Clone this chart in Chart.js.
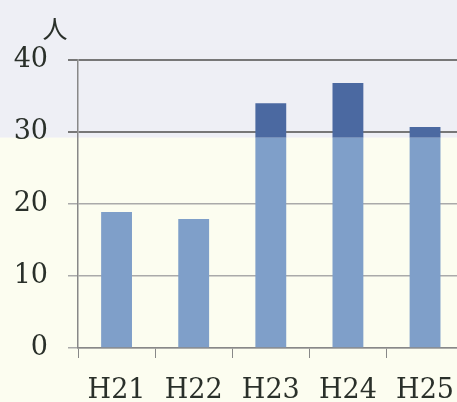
<!DOCTYPE html>
<html>
<head>
<meta charset="utf-8">
<script src="https://cdn.jsdelivr.net/npm/chart.js@4"></script>
<style>
  html, body { margin: 0; padding: 0; overflow: hidden; background: #fcfdf0; }
  canvas { display: block; }
</style>
</head>
<body>
<canvas id="chart" width="471" height="402"></canvas>
<script>
const categories = ['H21', 'H22', 'H23', 'H24', 'H25'];
const baseValues = [18.9, 17.9, 29.2, 29.2, 29.2];
const overValues = [0, 0, 4.8, 7.6, 1.5];
const yTicks = [0, 10, 20, 30, 40];
const bandValue = 29.2;
const unitLabel = '人';

const bandPlugin = {
    id: 'band',
    beforeDraw(chart) {
        const c = chart.ctx;
        const y = chart.scales.y.getPixelForValue(bandValue);
        c.save();
        c.fillStyle = '#eeeff5';
        c.fillRect(0, 0, chart.width, y);
        c.fillStyle = '#fcfdf0';
        c.fillRect(0, y, chart.width, chart.height - y);
        c.restore();
    },
    afterDraw(chart) {
        const c = chart.ctx;
        c.save();
        c.fillStyle = '#2a302a';
        c.font = '25px "Noto Sans CJK JP"';
        c.textAlign = 'center';
        c.textBaseline = 'middle';
        c.fillText(unitLabel, 55, 28);
        c.restore();
    }
};

new Chart(document.getElementById('chart'), {
    type: 'bar',
    data: {
        labels: categories,
        datasets: [{
            data: baseValues,
            backgroundColor: '#7f9fc9',
            barPercentage: 0.4,
            categoryPercentage: 1
        }, {
            data: overValues,
            backgroundColor: '#4b69a1',
            barPercentage: 0.4,
            categoryPercentage: 1
        }]
    },
    options: {
        responsive: false,
        animation: false,
        layout: { padding: { top: 60, right: 0, left: 0, bottom: 0 } },
        plugins: { legend: { display: false }, tooltip: { enabled: false } },
        scales: {
            x: {
                stacked: true,
                afterFit(s) { s.height = 54; },
                grid: {
                    drawOnChartArea: false,
                    tickLength: 10,
                    color: '#888'
                },
                border: { color: '#888', width: 1.5 },
                ticks: {
                    color: '#2a302a',
                    padding: 17,
                    font: { family: '"DejaVu Serif"', size: 27 }
                }
            },
            y: {
                stacked: true,
                min: 0,
                max: 40,
                afterFit(s) { s.width = 78; },
                afterBuildTicks(s) { s.ticks = yTicks.map(v => ({ value: v })); },
                grid: {
                    tickLength: 10,
                    color: ctx => ctx.tick && ctx.tick.value >= 30 ? '#777' : '#aaa',
                    lineWidth: ctx => ctx.tick && ctx.tick.value >= 30 ? 2 : 1.5
                },
                border: { color: '#888', width: 1.5 },
                ticks: {
                    color: '#2a302a',
                    padding: 20,
                    font: { family: '"DejaVu Serif"', size: 27 }
                }
            }
        }
    },
    plugins: [bandPlugin]
});
</script>
</body>
</html>
